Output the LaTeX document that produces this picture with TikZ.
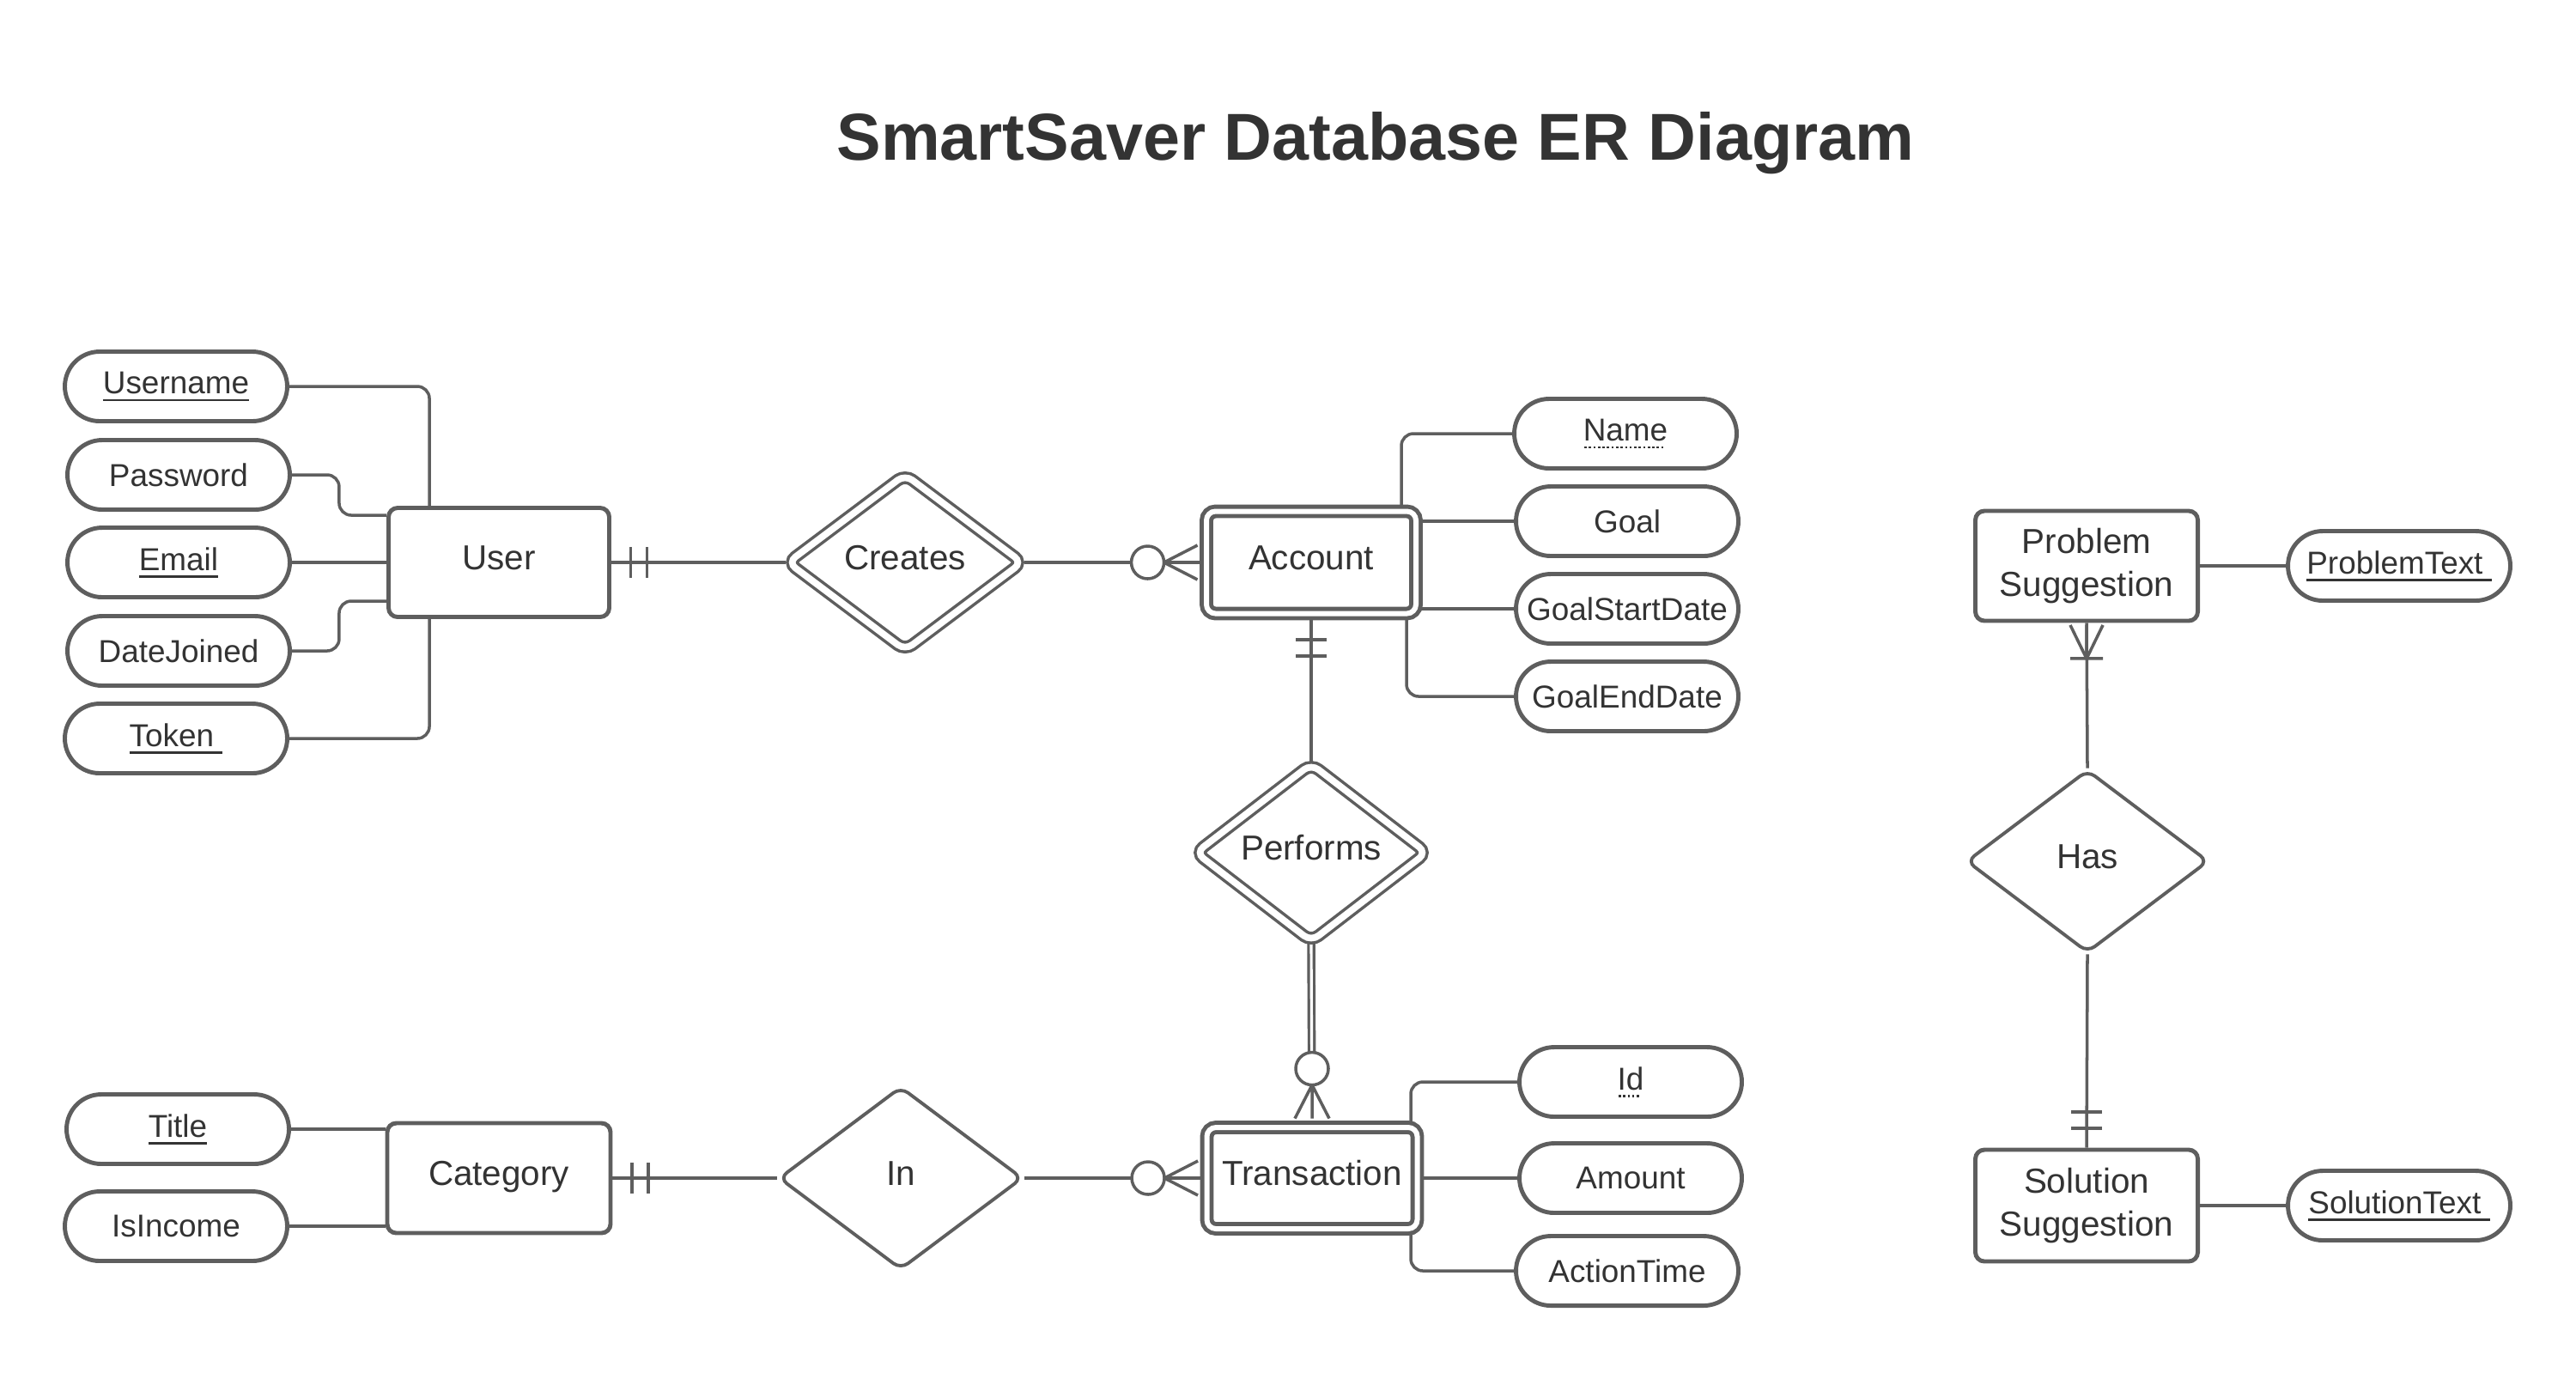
\documentclass[tikz,border=0pt]{standalone}
\usepackage{fontspec}
\setmainfont{Liberation Sans}
\usepackage{tikz}
\usetikzlibrary{positioning,shapes.geometric,shapes.misc,calc,backgrounds}
\definecolor{erGray}{HTML}{5E5E5E}
\definecolor{erText}{HTML}{333333}
\newcommand{\entityFont}{\fontsize{11.5}{14}\selectfont}
\newcommand{\attrFont}{\fontsize{10.5}{12}\selectfont}
\newsavebox{\keyBox}
\newcommand{\keyLine}[1]{\sbox{\keyBox}{#1}\rlap{\raisebox{-2.4pt}{\rule{\wd\keyBox}{0.65pt}}}\usebox{\keyBox}}
\newcommand{\dotKey}[1]{\sbox{\keyBox}{#1}\rlap{\raisebox{-2.4pt}{\makebox[\wd\keyBox][l]{\leaders\hbox to 1.5pt{\hss\rule{0.75pt}{0.65pt}\hss}\hfill}}}\usebox{\keyBox}}

\tikzset{
    tipLine/.style={draw=erGray, line width=1pt},
    pics/barPair/.style={code={
        \draw[tipLine] (0.2,-0.18) -- (0.2,0.18) (0.39,-0.18) -- (0.39,0.18);
    }},
    pics/ringFoot/.style={code={
        \draw[tipLine] (0,0.2) -- (0.39,0) -- (0,-0.2) (0,0) -- (0.39,0);
        \draw[tipLine, fill=white] (0.58,0) circle (0.19);
    }},
    pics/barFoot/.style={code={
        \draw[tipLine] (0,0.19) -- (0.39,0) -- (0,-0.19) (0,0) -- (0.39,0) (0.39,-0.19) -- (0.39,0.19);
    }}
}

\begin{document}
\begin{tikzpicture}[
    entity/.style={rectangle, draw=erGray, fill=white, line width=1.4pt, rounded corners=3pt, inner sep=0pt, text=erText, font=\entityFont, align=center},
    weakEntity/.style={entity, double=white, double distance=1.7pt},
    liftText/.style={text height=0.3cm, text depth=0.14cm},
    attr/.style={rounded rectangle, draw=erGray, fill=white, line width=1.4pt, minimum width=2.59cm, minimum height=0.81cm, inner sep=0pt, text=erText, font=\attrFont},
    relation/.style={diamond, draw=erGray, fill=white, line width=1.1pt, rounded corners=3pt, inner sep=0pt, text=erText, font=\entityFont},
    idRelation/.style={relation, line width=1pt, double=white, double distance=2.2pt},
    link/.style={draw=erGray, line width=1pt, rounded corners=4pt}
]
    \useasboundingbox (0,0) rectangle (30,-15.98);

    % Titolo
    \node[anchor=base, text=erText, font=\fontsize{22}{26}\selectfont\bfseries] (heading) at (16.02,-1.86) {SmartSaver Database ER Diagram};

    % Entita
    \node[entity, liftText, minimum width=2.57cm, minimum height=1.27cm] (user) at (5.81,-6.55) {User};
    \node[weakEntity, liftText, minimum width=2.44cm, minimum height=1.19cm] (account) at (15.27,-6.55) {Account};
    \node[weakEntity, liftText, minimum width=2.45cm, minimum height=1.18cm] (transaction) at (15.28,-13.72) {Transaction};
    \node[entity, liftText, minimum width=2.60cm, minimum height=1.28cm] (category) at (5.81,-13.72) {Category};
    \node[entity, minimum width=2.59cm, minimum height=1.28cm] (problem) at (24.30,-6.59) {Problem\\Suggestion};
    \node[entity, minimum width=2.59cm, minimum height=1.30cm] (solution) at (24.30,-14.04) {Solution\\Suggestion};

    % Relazioni
    \node[idRelation, liftText, minimum width=2.74cm, minimum height=2.06cm] (creates) at (10.54,-6.55) {Creates};
    \node[idRelation, liftText, minimum width=2.70cm, minimum height=2.06cm] (performs) at (15.27,-9.93) {Performs};
    \node[relation, liftText, minimum width=2.84cm, minimum height=2.13cm] (in) at (10.49,-13.72) {In};
    \node[relation, liftText, minimum width=2.82cm, minimum height=2.13cm] (has) at (24.31,-10.03) {Has};

    % Attributi User
    \node[attr] (username) at (2.05,-4.50) {\keyLine{Username}};
    \node[attr] (password) at (2.08,-5.53) {Password};
    \node[attr] (email) at (2.08,-6.55) {\keyLine{Email}};
    \node[attr] (dateJoined) at (2.08,-7.58) {DateJoined};
    \node[attr] (token) at (2.05,-8.60) {\keyLine{Token\ }};

    % Attributi Account
    \node[attr] (name) at (18.93,-5.05) {\dotKey{Name}};
    \node[attr] (goal) at (18.95,-6.07) {Goal};
    \node[attr] (goalStart) at (18.95,-7.09) {GoalStartDate};
    \node[attr] (goalEnd) at (18.95,-8.11) {GoalEndDate};

    % Attributi Transaction
    \node[attr] (id) at (18.99,-12.60) {\dotKey{Id}};
    \node[attr] (amount) at (18.99,-13.72) {Amount};
    \node[attr] (actionTime) at (18.95,-14.80) {ActionTime};

    % Attributi Category
    \node[attr] (title) at (2.07,-13.15) {\keyLine{Title}};
    \node[attr] (isIncome) at (2.05,-14.28) {IsIncome};

    % Attributi Suggestion
    \node[attr] (problemText) at (27.94,-6.59) {\keyLine{ProblemText\ }};
    \node[attr] (solutionText) at (27.94,-14.04) {\keyLine{SolutionText\ }};

    \begin{pgfonlayer}{background}
        \draw[link] (username.east) -| ([xshift=0.5cm]user.north west);
        \draw[link] (password.east) -- ++(0.55,0) |- ([yshift=0.55cm]user.west);
        \draw[link] (email.east) -- (user.west);
        \draw[link] (dateJoined.east) -- ++(0.55,0) |- ([yshift=-0.45cm]user.west);
        \draw[link] (token.east) -| ([xshift=0.5cm]user.south west);

        \draw[link] (name.west) -| ([xshift=1.05cm]account.north);
        \draw[link] (goal.west) -- (goal.west -| account.east);
        \draw[link] (goalStart.west) -- (goalStart.west -| account.east);
        \draw[link] (goalEnd.west) -| ([xshift=1.11cm]account.south);

        \draw[link] (id.west) -| ([xshift=1.15cm]transaction.north);
        \draw[link] (amount.west) -- (transaction.east);
        \draw[link] (actionTime.west) -| ([xshift=1.15cm]transaction.south);

        \draw[link] (title.east) -- (title.east -| category.west);
        \draw[link] (isIncome.east) -- (isIncome.east -| category.west);

        \draw[link] (problemText.west) -- (problem.east);
        \draw[link] (solutionText.west) -- (solution.east);

        \draw[link] (user.east) -- (creates.west);
        \draw[link] (creates.east) -- (account.west);
        \draw[link] (account.south) -- (performs.north);
        \draw[link, line width=0.9pt, double=white, double distance=0.9pt, shorten >=0.67cm] (performs.south) -- (transaction.north);
        \draw[link] (category.east) -- (in.west);
        \draw[link] (in.east) -- (transaction.west);
        \draw[link] (problem.south) -- (has.north);
        \draw[link] (has.south) -- (solution.north);
    \end{pgfonlayer}

    % Cardinalita
    \pic at ([xshift=0.025cm]user.east) {barPair};
    \pic[rotate=180] at ([xshift=-0.08cm]account.west) {ringFoot};
    \pic[rotate=-90] at ([yshift=-0.08cm]account.south) {barPair};
    \pic[rotate=90] at ([yshift=0.08cm]transaction.north) {ringFoot};
    \pic at ([xshift=0.025cm]category.east) {barPair};
    \pic[rotate=180] at ([xshift=-0.08cm]transaction.west) {ringFoot};
    \pic[rotate=-90] at ([yshift=-0.025cm]problem.south) {barFoot};
    \pic[rotate=90] at ([yshift=0.025cm]solution.north) {barPair};
\end{tikzpicture}
\end{document}
